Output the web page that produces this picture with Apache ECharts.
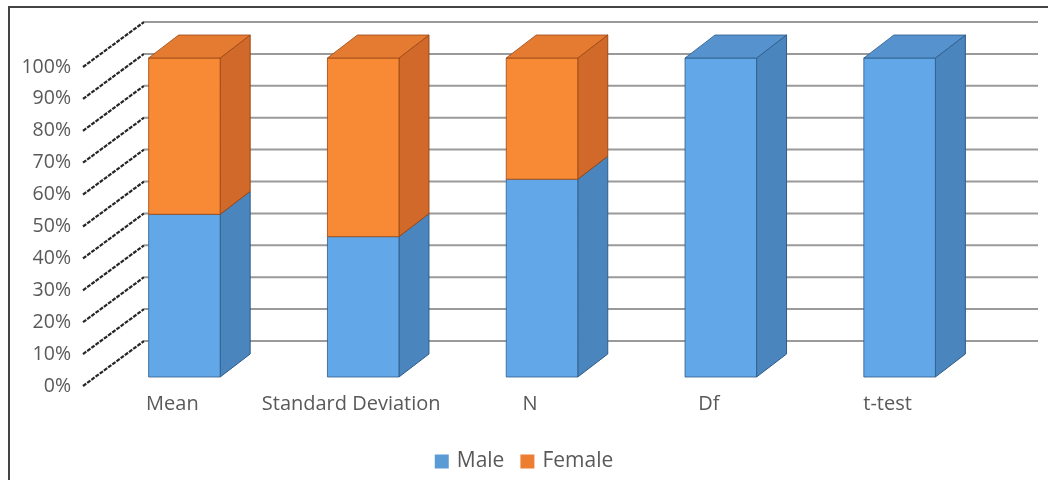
<!DOCTYPE html>
<html>
<head>
<meta charset="utf-8">
<script src="https://cdn.jsdelivr.net/npm/echarts@6/dist/echarts.min.js"></script>
<style>
  html, body { margin: 0; padding: 0; background: #fff; }
  #chart { width: 1048px; height: 480px; }
</style>
</head>
<body>
<div id="chart"></div>
<script>
// Share of each statistic by gender (100% stacked columns)
const categories = ['Mean', 'Standard Deviation', 'N', 'Df', 't-test'];
const male = [51, 44, 62, 100, 100];
const female = [49, 56, 38, 0, 0];
const yTicks = [0, 10, 20, 30, 40, 50, 60, 70, 80, 90, 100];

// Oblique projection: full depth of the walls, and where the columns sit in it
const WALL_DX = 61, WALL_DY = -45;
const BAR_FX = 12, BAR_FY = -9;      // column front plane
const BAR_DX = 30, BAR_DY = -23;     // column depth
const BAR_RATIO = 0.4;

const faces = {
  Male:   { front: '#62A8E8', side: '#4A85BD', top: '#5592CE', edge: '#2F5C88' },
  Female: { front: '#F98A35', side: '#D0692A', top: '#E57B31', edge: '#9A4814' }
};

function wallItem(params, api) {
  const cs = params.coordSys;
  const y = api.coord([0, api.value(1)])[1];
  const xl = cs.x, xr = cs.x + cs.width;
  return {
    type: 'group',
    children: [
      {
        type: 'line',
        shape: { x1: xl, y1: y, x2: xl + WALL_DX, y2: y + WALL_DY },
        style: { stroke: '#262626', lineWidth: 2.2, lineDash: [4, 1.2] }
      },
      {
        type: 'line',
        shape: { x1: xl + WALL_DX, y1: y + WALL_DY, x2: xr + WALL_DX, y2: y + WALL_DY },
        style: { stroke: '#9a9a9a', lineWidth: 2 }
      }
    ]
  };
}

function makeBarItem(name) {
  const f = faces[name];
  return function (params, api) {
    const i = api.value(0), lo = api.value(1), hi = api.value(2), isTop = api.value(3);
    if (hi <= lo) return null;
    const c0 = api.coord([i, lo]);
    const c1 = api.coord([i, hi]);
    const w = api.size([1, 0])[0] * BAR_RATIO;
    const x0 = c0[0] - w / 2 + BAR_FX, x1 = x0 + w;
    const yb = c0[1] + BAR_FY, yt = c1[1] + BAR_FY;
    const children = [
      {
        type: 'polygon',
        shape: { points: [[x1, yb], [x1 + BAR_DX, yb + BAR_DY], [x1 + BAR_DX, yt + BAR_DY], [x1, yt]] },
        style: { fill: f.side, stroke: f.edge, lineWidth: 1 }
      },
      {
        type: 'rect',
        shape: { x: x0, y: yt, width: w, height: yb - yt },
        style: { fill: f.front, stroke: f.edge, lineWidth: 0.8 }
      }
    ];
    if (isTop) {
      children.push({
        type: 'polygon',
        shape: { points: [[x0, yt], [x1, yt], [x1 + BAR_DX, yt + BAR_DY], [x0 + BAR_DX, yt + BAR_DY]] },
        style: { fill: f.top, stroke: f.edge, lineWidth: 0.8 }
      });
    }
    return { type: 'group', children: children };
  };
}

const maleData = categories.map((c, i) => [i, 0, male[i], female[i] === 0 ? 1 : 0]);
const femaleData = categories.map((c, i) => [i, male[i], male[i] + female[i], 1]);

const chart = echarts.init(document.getElementById('chart'), null, { renderer: 'canvas' });
chart.setOption({
  animation: false,
  backgroundColor: '#ffffff',
  textStyle: { fontFamily: 'Open Sans' },
  graphic: [{
    type: 'rect',
    shape: { x: 9, y: 7, width: 1200, height: 600 },
    style: { fill: 'none', stroke: '#444', lineWidth: 2 },
    silent: true,
    z: 0
  }],
  grid: { left: 83, right: 71, top: 67, bottom: 94 },
  xAxis: {
    type: 'category',
    data: categories,
    axisLine: { show: false },
    axisTick: { show: false },
    axisLabel: { interval: 0, color: '#595959', fontSize: 20, margin: 8, fontFamily: 'Open Sans' }
  },
  yAxis: {
    type: 'value',
    min: 0, max: 100, interval: 10,
    axisLine: { show: false },
    axisTick: { show: false },
    splitLine: { show: false },
    axisLabel: { color: '#595959', fontSize: 19.5, margin: 12, formatter: '{value}%', fontFamily: 'Open Sans' }
  },
  legend: {
    bottom: 3,
    left: 'center',
    icon: 'rect',
    itemWidth: 14,
    itemHeight: 14,
    itemGap: 16,
    textStyle: { color: '#595959', fontSize: 21, fontFamily: 'Open Sans', padding: [0, 0, 0, 3] },
    data: ['Male', 'Female']
  },
  series: [
    {
      type: 'custom',
      name: 'walls',
      silent: true,
      clip: false,
      z: 1,
      renderItem: wallItem,
      data: yTicks.map(v => [0, v])
    },
    {
      type: 'custom',
      name: 'Male',
      clip: false,
      z: 2,
      itemStyle: { color: '#5B9BD5' },
      renderItem: makeBarItem('Male'),
      encode: { x: 0, y: 2 },
      data: maleData
    },
    {
      type: 'custom',
      name: 'Female',
      clip: false,
      z: 3,
      itemStyle: { color: '#ED7D31' },
      renderItem: makeBarItem('Female'),
      encode: { x: 0, y: 2 },
      data: femaleData
    }
  ]
});
</script>
</body>
</html>
